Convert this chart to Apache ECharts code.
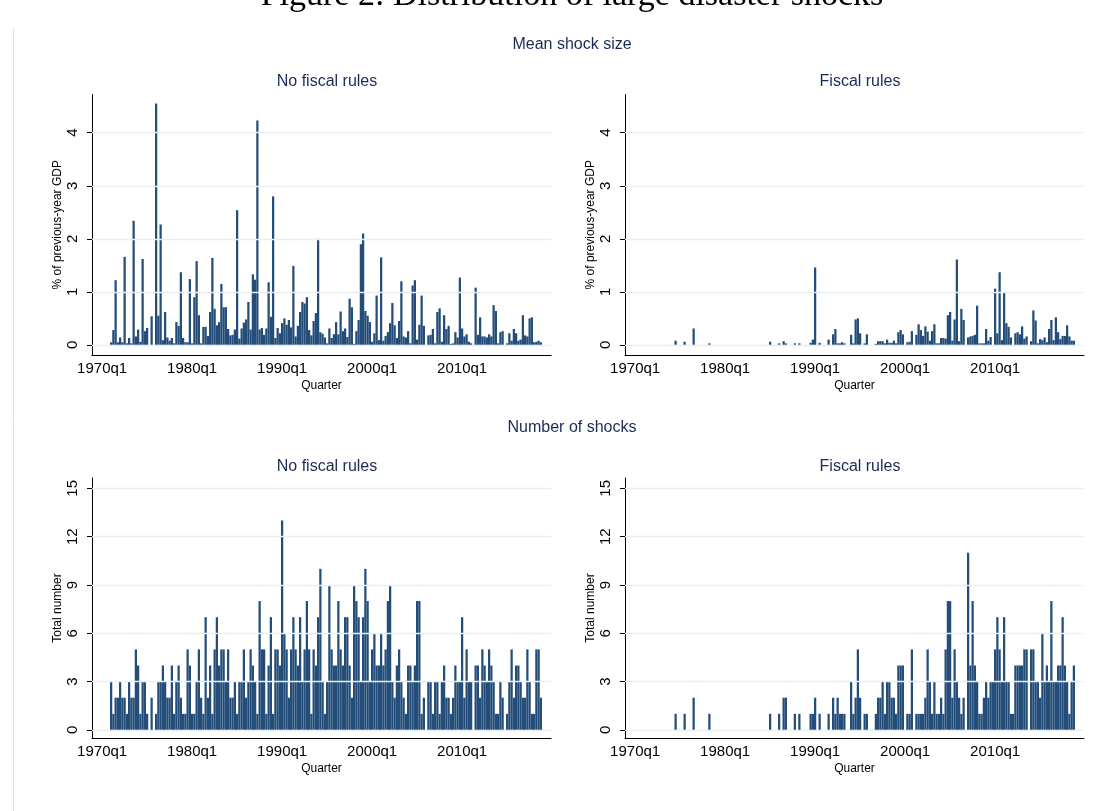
<!DOCTYPE html>
<html><head><meta charset="utf-8">
<script src="https://cdn.jsdelivr.net/npm/echarts@6/dist/echarts.min.js"></script>
<style>html,body{margin:0;padding:0;background:#fff}#c{width:1110px;height:811px}</style>
</head><body><div id="c"></div>
<script>
// Axis spans 1969q1..2019q4; data start at 1970q1
const axisYears = [1969, 2019];
const dataStart = '1970q1';
const xTickLabels = ['1970q1', '1980q1', '1990q1', '2000q1', '2010q1'];
const sizeTicks = [0, 1, 2, 3, 4];
const countTicks = [0, 3, 6, 9, 12, 15];

// Mean shock size (% of previous-year GDP), 1970q1..2018q4
const sizeNoRules = [
 0,0,0,0,0.05,0.28,1.22,0.05,0.14,0.05,
 1.66,0.03,0.13,0.03,2.34,0.16,0.29,0.06,1.62,0.26,
 0.32,0,0.54,0,4.55,0.55,2.27,0.09,0.62,0.14,
 0.08,0.13,0.03,0.43,0.36,1.37,0.13,0.05,0.05,1.24,
 0.03,0.9,1.58,0.56,0.03,0.34,0.34,0.17,0.62,1.64,
 0.68,0.37,0.43,1.15,0.71,0.71,0.3,0.18,0.19,0.29,
 2.54,0.12,0.31,0.42,0.48,0.81,0.29,1.33,1.23,4.23,
 0.29,0.32,0.19,0.31,1.18,0.53,2.8,0.13,0.32,0.22,
 0.41,0.5,0.38,0.47,0.33,1.49,0.16,0.36,0.62,0.81,
 0.78,0.9,0.28,0.18,0.45,0.6,2.0,0.24,0.21,0.14,
 0.03,0.31,0.13,0.2,0.43,0.2,0.63,0.26,0.31,0.15,
 0.87,0.71,0.02,0.26,0.47,1.9,2.1,0.64,0.55,0.43,
 0.06,0.22,0.93,0.09,1.65,0.08,0.17,0.24,0.41,0.79,
 0.37,0.13,0.45,1.2,0.16,0.14,0.26,0.03,1.12,1.22,
 0.1,0.38,0.93,0.36,0,0.18,0.19,0.3,0.03,0.62,
 0.69,0.06,0.56,0.3,0.36,0.02,0.03,0.24,0.14,1.27,
 0.31,0.16,0.2,0.06,0.03,0,1.08,0.19,0.52,0.16,
 0.16,0.14,0.2,0.16,0.75,0.64,0.03,0.24,0.26,0,
 0.03,0.22,0.08,0.3,0.22,0.08,0.1,0.56,0.18,0.16,
 0.5,0.52,0.05,0.06,0.08,0.05
];
const sizeRules = [
 0,0,0,0,0,0,0,0,0,0,
 0,0,0,0,0,0,0,0,0.08,0,
 0,0,0.06,0,0,0,0.31,0,0,0,
 0,0,0,0.03,0,0,0,0,0,0,
 0,0,0,0,0,0,0,0,0,0,
 0,0,0,0,0,0,0,0,0,0,
 0.06,0,0,0,0.03,0,0.07,0.03,0,0,
 0,0.03,0,0.03,0,0,0,0,0.04,0.1,
 1.46,0,0.04,0,0,0,0.1,0,0.2,0.3,
 0.03,0.03,0.05,0.03,0,0,0.19,0.03,0.48,0.5,
 0.22,0,0.03,0.2,0,0,0,0.02,0.07,0.07,
 0.07,0.03,0.1,0.04,0.04,0.08,0.03,0.24,0.28,0.2,
 0,0.05,0.06,0.26,0,0.19,0.39,0.28,0.17,0.35,
 0.25,0.08,0.26,0.39,0.03,0.03,0.13,0.13,0.12,0.56,
 0.62,0.08,0.48,1.61,0.07,0.68,0.47,0,0.14,0.16,
 0.17,0.19,0.74,0.03,0.03,0.03,0.3,0.08,0.15,0,
 1.06,0.22,1.37,0.09,0.98,0.41,0.34,0.14,0,0.22,
 0.24,0.2,0.35,0.12,0.16,0,0.07,0.65,0.46,0.03,
 0.11,0.09,0.14,0.05,0.3,0.47,0.09,0.52,0.24,0.11,
 0.17,0.17,0.37,0.16,0.08,0.08
];
// Number of shocks, 1970q1..2018q4
const countNoRules = [
 0,0,0,0,3,1,2,2,3,2,
 2,1,3,2,2,5,4,1,3,3,
 1,0,2,0,1,3,3,4,3,2,
 2,4,1,3,4,2,1,1,5,4,
 1,1,3,5,2,1,7,2,4,1,
 5,7,4,5,5,3,5,2,2,3,
 1,3,3,5,2,3,5,4,3,1,
 8,5,5,1,4,7,1,5,5,4,
 13,6,5,2,5,7,5,4,7,3,
 5,8,5,1,5,4,7,10,3,1,
 3,9,5,4,4,8,5,4,7,7,
 4,2,9,8,7,3,7,10,8,3,
 5,6,4,4,6,4,5,8,9,3,
 2,4,5,3,2,1,4,4,3,4,
 8,8,1,2,0,3,3,1,3,3,
 1,3,4,2,2,1,2,4,3,3,
 7,2,5,3,3,0,4,4,2,5,
 4,3,5,4,3,1,1,3,2,0,
 1,3,5,2,4,4,3,2,2,5,
 3,1,1,5,5,2
];
const countRules = [
 0,0,0,0,0,0,0,0,0,0,
 0,0,0,0,0,0,0,0,1,0,
 0,0,1,0,0,0,2,0,0,0,
 0,0,0,1,0,0,0,0,0,0,
 0,0,0,0,0,0,0,0,0,0,
 0,0,0,0,0,0,0,0,0,0,
 1,0,0,0,1,0,2,2,0,0,
 0,1,0,1,0,0,0,0,1,1,
 2,0,1,0,0,0,1,0,2,1,
 2,1,1,1,0,0,3,1,2,5,
 2,0,1,1,0,0,0,1,2,2,
 3,1,3,3,2,2,1,4,4,4,
 0,1,1,5,0,1,1,1,1,2,
 5,3,1,3,1,1,2,1,5,8,
 8,2,5,3,2,1,2,0,11,4,
 8,4,3,1,1,2,3,2,3,3,
 5,7,5,3,7,3,3,1,1,4,
 4,4,4,5,5,0,5,5,3,3,
 2,6,3,4,3,8,3,3,4,4,
 7,4,3,1,3,4
];

const quarters = [];
for (let y = axisYears[0]; y <= axisYears[1]; y++) for (let k = 1; k <= 4; k++) quarters.push(y + 'q' + k);
const offset = quarters.indexOf(dataStart);
function align(arr) { return quarters.map((q, i) => { const j = i - offset; return (j >= 0 && j < arr.length) ? arr[j] : null; }); }

const BAR = '#244e79', GRID = '#e7eff1', TXT = '#1c2a55', FONT = 'Liberation Sans';
const showTick = (i, v) => xTickLabels.indexOf(v) >= 0;

const panels = [
  {left: 92, top: 94.5, height: 260.5, min: -0.19, max: 4.72, ticks: sizeTicks, name: '% of previous-year GDP', data: sizeNoRules},
  {left: 625, top: 94.5, height: 260.5, min: -0.19, max: 4.72, ticks: sizeTicks, name: '% of previous-year GDP', data: sizeRules},
  {left: 92, top: 478, height: 260, min: -0.5, max: 15.64, ticks: countTicks, name: 'Total number', data: countNoRules},
  {left: 625, top: 478, height: 260, min: -0.5, max: 15.64, ticks: countTicks, name: 'Total number', data: countRules}
];

const grid = [], xAxis = [], yAxis = [], series = [];
panels.forEach((p, i) => {
  grid.push({left: p.left, top: p.top, width: 459, height: p.height, containLabel: false});
  xAxis.push({
    type: 'category', gridIndex: i, data: quarters, boundaryGap: true,
    axisLine: {onZero: false, lineStyle: {color: '#000', width: 1}},
    axisTick: {alignWithLabel: true, interval: showTick, length: 5, lineStyle: {color: '#000', width: 1}},
    axisLabel: {interval: showTick, fontSize: 15, color: '#000', margin: 6, fontFamily: FONT},
    name: 'Quarter', nameLocation: 'middle', nameGap: 25,
    nameTextStyle: {fontSize: 12, color: '#000', fontFamily: FONT},
    splitLine: {show: false}
  });
  yAxis.push({
    type: 'value', gridIndex: i, min: p.min, max: p.max,
    axisLine: {show: true, lineStyle: {color: '#000', width: 1}},
    axisTick: {show: true, customValues: p.ticks, length: 5, lineStyle: {color: '#000', width: 1}},
    axisLabel: {customValues: p.ticks, rotate: 90, fontSize: 15, color: '#000', margin: 12, fontFamily: FONT},
    splitLine: {show: false},
    name: p.name, nameLocation: 'middle', nameGap: 28,
    nameTextStyle: {fontSize: 12, color: '#000', fontFamily: FONT}
  });
  series.push({
    type: 'line', xAxisIndex: i, yAxisIndex: i, data: [], z: 1, silent: true,
    markLine: {silent: true, symbol: ['none', 'none'], label: {show: false}, animation: false,
      lineStyle: {color: GRID, width: 1.3, type: 'solid'},
      data: p.ticks.map(v => ({yAxis: v}))}
  });
  series.push({
    type: 'bar', xAxisIndex: i, yAxisIndex: i, data: align(p.data), z: 3,
    barCategoryGap: '0%', itemStyle: {color: BAR}, animation: false, silent: true
  });
});

const tstyle = {fontSize: 16, fontWeight: 'normal', color: TXT, fontFamily: FONT};
const title = [
  {text: 'Figure 2: Distribution of large disaster shocks', left: 567, top: -26, textAlign: 'center',
   textStyle: {fontSize: 34, fontWeight: 'normal', color: '#000', fontFamily: 'Liberation Serif'}},
  {text: 'Mean shock size', left: 567, top: 32, textAlign: 'center', textStyle: tstyle},
  {text: 'No fiscal rules', left: 322, top: 69, textAlign: 'center', textStyle: tstyle},
  {text: 'Fiscal rules', left: 855, top: 69, textAlign: 'center', textStyle: tstyle},
  {text: 'Number of shocks', left: 567, top: 415, textAlign: 'center', textStyle: tstyle},
  {text: 'No fiscal rules', left: 322, top: 454, textAlign: 'center', textStyle: tstyle},
  {text: 'Fiscal rules', left: 855, top: 454, textAlign: 'center', textStyle: tstyle}
];

const chart = echarts.init(document.getElementById('c'), null, {renderer: 'canvas'});
chart.setOption({
  backgroundColor: '#fff', animation: false, title, grid, xAxis, yAxis, series,
  graphic: [{type: 'line', shape: {x1: 13.5, y1: 28, x2: 13.5, y2: 811}, style: {stroke: '#e0e0e0', lineWidth: 1}, silent: true}]
});
</script></body></html>
